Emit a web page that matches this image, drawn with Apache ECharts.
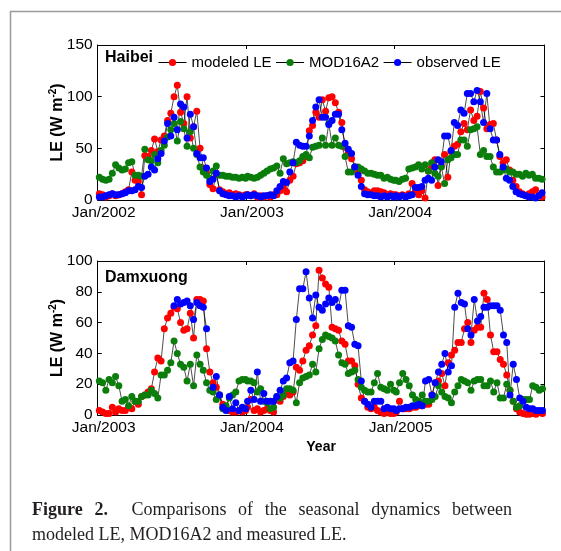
<!DOCTYPE html>
<html>
<head>
<meta charset="utf-8">
<script src="https://cdn.jsdelivr.net/npm/echarts@6/dist/echarts.min.js"></script>
<style>
  html, body { margin: 0; padding: 0; background: #fff; }
  #wrap { position: relative; width: 561px; height: 551px; }
  #chart { position: absolute; left: 0; top: 0; width: 561px; height: 551px; }
  #caption {
    position: absolute; left: 32px; top: 497px; width: 480px;
    font-family: 'Liberation Serif', 'Times New Roman', serif;
    font-size: 18px; line-height: 25px; color: #231f20;
    text-align: justify; text-align-last: left;
  }
</style>
</head>
<body>
<div id="wrap">
  <div id="chart"></div>
  <div id="caption"><b>Figure 2.</b>&nbsp; Comparisons of the seasonal dynamics between modeled LE, MOD16A2 and measured LE.</div>
</div>
<script>
// 8-day composites, 46 per year, three years per site
const seriesNames = ['modeled LE', 'MOD16A2', 'observed LE'];
const seriesColors = ['#ff0000', '#0a7d0a', '#0000ff'];

const haibeiYearStart = [0, 365, 730];      // Jan 2002, 2003, 2004 (days)
const haibeiTickLabels = ['Jan/2002', 'Jan/2003', 'Jan/2004'];
const damxuongYearStart = [0, 365, 731];    // Jan 2003, 2004, 2005 (days)
const damxuongTickLabels = ['Jan/2003', 'Jan/2004', 'Jan/2005'];

const haibeiModeled = [
  6,5,3,4,6,4,5,6,8,10,27,19,18,5,43,42,48,59,47,58,62,77,84,100,111,85,74,100,60,71,86,50,31,26,15,11,25,10,8,6,7,5,6,5,4,5,
  5,4,6,3,4,3,4,3,5,5,9,12,8,19,23,35,36,38,42,67,72,85,80,97,86,99,100,94,85,75,51,45,40,32,26,19,10,8,6,9,9,8,7,5,6,5,
  5,4,5,4,6,16,8,5,9,2,28,32,39,14,33,44,22,47,52,54,66,74,68,87,77,81,105,89,69,73,74,58,42,36,39,29,19,13,8,6,4,6,8,10,4,3
];
const haibeiMod16 = [
  22,20,19,20,26,34,31,29,30,36,37,24,24,23,49,39,38,44,36,48,53,61,68,74,57,76,69,52,66,50,44,32,27,24,21,28,33,24,24,23,23,22,22,21,22,21,
  23,22,21,22,24,26,28,30,31,33,26,40,35,36,37,36,38,42,44,41,51,52,53,60,53,74,53,60,53,52,42,27,27,32,32,30,28,26,26,25,24,24,21,22,20,19,
  19,18,20,21,30,31,32,34,30,34,28,36,26,23,32,16,39,41,44,44,58,58,52,68,69,71,44,48,42,42,32,27,27,29,30,27,27,25,25,23,26,24,25,21,21,20
];
const haibeiObserved = [
  3,3,4,5,6,5,5,6,7,9,9,10,13,12,23,25,32,29,40,45,57,74,62,80,68,93,90,60,83,71,45,41,41,31,18,20,26,9,6,5,4,4,3,4,3,4,
  5,4,5,4,3,4,4,5,4,9,13,18,17,27,36,56,53,52,52,62,77,90,97,80,80,73,77,83,83,68,55,49,45,32,24,13,6,5,5,4,4,3,4,3,4,3,
  4,3,4,3,4,5,12,12,13,19,21,19,32,39,37,62,62,48,75,72,87,84,103,103,95,106,95,75,103,69,58,58,44,32,21,19,13,8,6,5,4,3,3,2,4,7
];

const damxuongModeled = [
  3,2,1,1,5,2,4,3,3,5,4,9,7,12,13,15,17,28,37,35,56,63,66,70,69,60,55,56,66,50,75,75,74,43,28,21,18,13,7,4,3,2,2,3,2,3,
  5,10,3,4,2,3,4,3,2,10,9,12,15,13,15,31,29,35,42,45,52,58,94,89,85,83,57,56,55,48,46,35,35,32,20,11,9,5,4,5,3,2,1,2,1,1,
  2,9,4,4,4,5,5,6,6,7,7,13,21,22,27,19,34,39,42,47,47,56,60,47,55,57,57,79,75,52,41,41,36,33,26,16,9,4,2,1,0.5,0.5,1,0.5,2,1
];
const damxuongMod16 = [
  22,21,16,23,21,25,19,9,10,6,12,9,9,12,13,13,16,14,11,26,26,29,34,48,40,33,31,22,33,19,39,33,29,21,16,15,10,13,4,6,11,13,15,22,23,23,
  22,22,21,15,17,9,8,4,5,12,11,13,17,17,16,8,21,24,25,26,33,28,43,49,52,51,50,48,39,34,33,27,28,29,23,18,16,15,15,21,27,18,17,16,20,16,
  15,21,27,23,19,13,10,9,13,9,9,10,12,19,15,12,11,8,15,19,23,22,21,16,22,23,23,19,19,22,15,21,11,11,20,16,9,5,6,10,10,10,19,18,16,17
];
const damxuongObserved = [
  null,null,null,null,null,null,null,null,null,null,null,null,null,null,null,null,null,null,null,null,null,null,null,
  71,75,72,73,74,71,62,73,71,70,56,null,18,25,13,5,3,12,4,8,3,5,4,
  9,16,10,28,9,14,9,9,9,12,16,22,24,34,35,62,82,82,93,76,63,78,70,68,72,76,73,75,70,81,81,58,57,46,45,22,9,7,5,9,9,9,4,5,4,4,
  3,4,4,5,5,6,6,7,6,22,23,13,21,28,33,40,28,32,70,79,73,72,56,52,75,61,64,70,70,71,71,71,68,52,47,13,33,23,11,9,5,4,4,3,3,3
];

// composite i -> day since Jan 1 of the first year
function toPoints(values, yearStart) {
  return values.map((v, i) => [yearStart[Math.floor(i / 46)] + (i % 46) * 8 + 4, v == null ? '-' : v]);
}

const sansFont = 'Liberation Sans, Arial, sans-serif';
const boxLine = { show: true, onZero: false, lineStyle: { color: '#000', width: 1 } };

function xAxes(gridIndex, tickDays, tickLabels, name) {
  const base = {
    type: 'value', gridIndex: gridIndex, min: 0, max: 1100,
    axisLine: boxLine, splitLine: { show: false },
    axisTick: { inside: true, length: 4, customValues: tickDays, lineStyle: { color: '#000' } }
  };
  return [
    Object.assign({}, base, {
      position: 'bottom',
      name: name, nameLocation: 'middle', nameGap: 25, nameMoveOverlap: false,
      nameTextStyle: { fontFamily: sansFont, fontWeight: 'bold', fontSize: 14, color: '#000' },
      axisLabel: {
        customValues: tickDays, margin: 5, padding: [0, 0, 0, 12],
        fontFamily: sansFont, fontSize: 15.5, color: '#000',
        formatter: function (v) {
          let best = 0;
          tickDays.forEach((d, i) => { if (Math.abs(d - v) < Math.abs(tickDays[best] - v)) best = i; });
          return tickLabels[best];
        }
      }
    }),
    Object.assign({}, base, { position: 'top', axisLabel: { show: false } })
  ];
}

function yAxes(gridIndex, yMax, yStep) {
  const base = {
    type: 'value', gridIndex: gridIndex, min: 0, max: yMax, interval: yStep,
    axisLine: boxLine, splitLine: { show: false },
    axisTick: { inside: true, length: 4, lineStyle: { color: '#000' } }
  };
  return [
    Object.assign({}, base, {
      position: 'left',
      name: 'LE (W m{sup|-2})', nameLocation: 'middle', nameGap: 31, nameRotate: 90,
      nameMoveOverlap: false,
      nameTextStyle: {
        fontFamily: sansFont, fontWeight: 'bold', fontSize: 16, color: '#000',
        rich: { sup: { fontFamily: sansFont, fontWeight: 'bold', fontSize: 10, color: '#000', verticalAlign: 'top', padding: [0, 0, 8, 0] } }
      },
      axisLabel: { margin: 5, fontFamily: sansFont, fontSize: 15.5, color: '#000' }
    }),
    Object.assign({}, base, { position: 'right', axisLabel: { show: false } })
  ];
}

function line(name, values, yearStart, color, axisIndex) {
  return {
    name: name, type: 'line', xAxisIndex: axisIndex, yAxisIndex: axisIndex,
    data: toPoints(values, yearStart),
    symbol: 'circle', symbolSize: 7, showAllSymbol: true, connectNulls: false,
    itemStyle: { color: color, borderWidth: 0 },
    lineStyle: { color: '#000', width: 0.7 },
    emphasis: { disabled: true }
  };
}

const chart = echarts.init(document.getElementById('chart'));
chart.setOption({
  animation: false,
  backgroundColor: '#fff',
  grid: [
    { left: 97.7, right: 16.5, top: 45, height: 155 },
    { left: 97.7, right: 16.5, top: 261, height: 154 }
  ],
  title: [
    { text: 'Haibei', left: 105, top: 50, padding: 0,
      textStyle: { fontFamily: sansFont, fontWeight: 'bold', fontSize: 16, color: '#000' } },
    { text: 'Damxuong', left: 105, top: 270, padding: 0,
      textStyle: { fontFamily: sansFont, fontWeight: 'bold', fontSize: 16, color: '#000' } }
  ],
  legend: {
    data: seriesNames, left: 158, top: 55, padding: 0,
    itemWidth: 28, itemHeight: 9, itemGap: 4,
    textStyle: { fontFamily: sansFont, fontSize: 15, color: '#000' },
    lineStyle: { color: '#000', width: 1 }
  },
  xAxis: xAxes(0, [0, 365, 730], haibeiTickLabels, '')
    .concat(xAxes(1, [0, 365, 731], damxuongTickLabels, 'Year')),
  yAxis: yAxes(0, 150, 50).concat(yAxes(1, 100, 20)),
  graphic: [{
    type: 'polyline', silent: true,
    shape: { points: [[10.5, 551], [10.5, 11.5], [561, 11.5]] },
    style: { fill: null, stroke: '#9a9a9a', lineWidth: 1.5 }
  }],
  series: [
    line(seriesNames[0], haibeiModeled, haibeiYearStart, seriesColors[0], 0),
    line(seriesNames[1], haibeiMod16, haibeiYearStart, seriesColors[1], 0),
    line(seriesNames[2], haibeiObserved, haibeiYearStart, seriesColors[2], 0),
    line(seriesNames[0], damxuongModeled, damxuongYearStart, seriesColors[0], 2),
    line(seriesNames[1], damxuongMod16, damxuongYearStart, seriesColors[1], 2),
    line(seriesNames[2], damxuongObserved, damxuongYearStart, seriesColors[2], 2)
  ]
});
</script>
</body>
</html>
